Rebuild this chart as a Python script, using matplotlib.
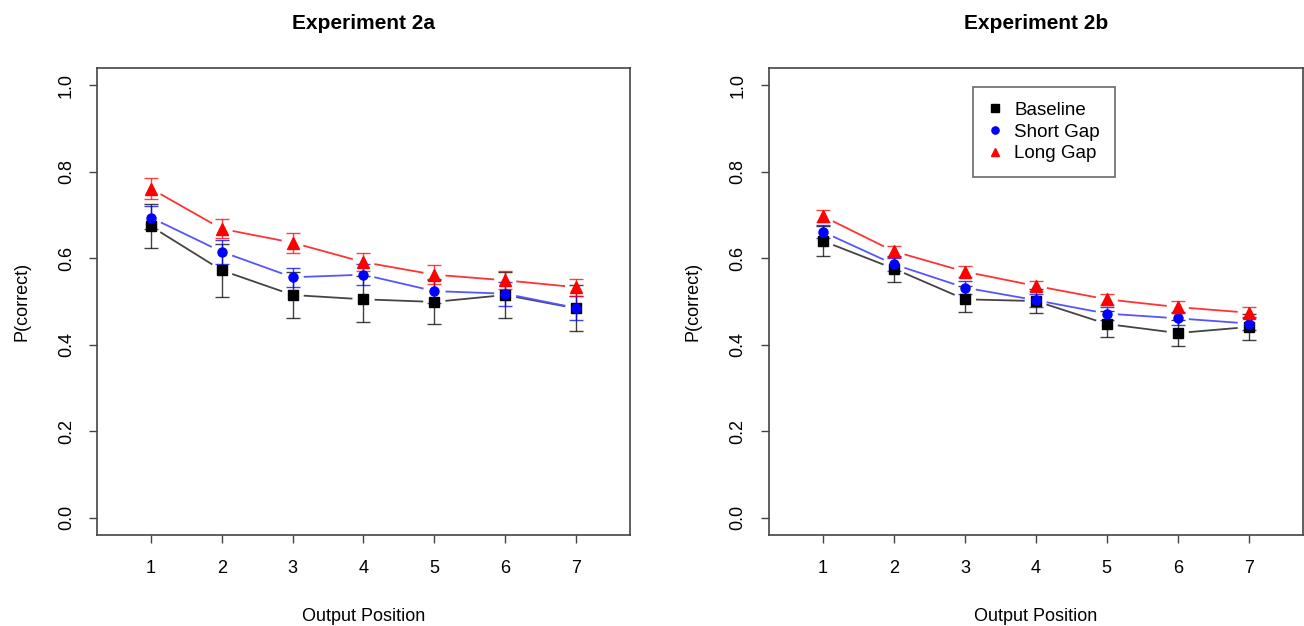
import numpy as np
import matplotlib
matplotlib.use("Agg")
import matplotlib.pyplot as plt

plt.rcParams['font.family'] = ['Liberation Sans', 'DejaVu Sans']

positions = [1, 2, 3, 4, 5, 6, 7]

# Experiment 2a
base_a = [0.674, 0.572, 0.515, 0.505, 0.499, 0.515, 0.484]
base_a_err = [0.051, 0.061, 0.054, 0.053, 0.051, 0.053, 0.053]
short_a = [0.694, 0.615, 0.556, 0.562, 0.524, 0.518, 0.485]
short_a_err = [0.027, 0.028, 0.022, 0.024, 0.027, 0.028, 0.028]
long_a = [0.761, 0.668, 0.636, 0.591, 0.562, 0.549, 0.533]
long_a_err = [0.024, 0.022, 0.023, 0.020, 0.022, 0.021, 0.020]

# Experiment 2b
base_b = [0.640, 0.576, 0.505, 0.501, 0.448, 0.427, 0.441]
base_b_err = [0.034, 0.030, 0.030, 0.027, 0.030, 0.030, 0.029]
short_b = [0.661, 0.586, 0.532, 0.503, 0.472, 0.461, 0.449]
short_b_err = [0.015, 0.015, 0.015, 0.015, 0.015, 0.015, 0.015]
long_b = [0.697, 0.616, 0.569, 0.536, 0.505, 0.487, 0.474]
long_b_err = [0.014, 0.013, 0.012, 0.012, 0.012, 0.013, 0.013]

series_names = ["Baseline", "Short Gap", "Long Gap"]
colors = ["black", "blue", "red"]
line_colors = ["#444444", "#5555ff", "#ff3333"]
markers = ["s", "o", "^"]
msizes = [6.5, 6.5, 8]

fig = plt.figure(figsize=(13.04, 6.26), dpi=100)
ax1 = fig.add_axes([0.0744, 0.1454, 0.4087, 0.746])
ax2 = fig.add_axes([0.5897, 0.1454, 0.4093, 0.746])


def gapped_line(ax, x, y, color, gap=12):
    # R type="b": segments stop short of the points
    fig.canvas.draw()
    pts = ax.transData.transform(np.column_stack([x, y]))
    inv = ax.transData.inverted()
    for p0, p1 in zip(pts[:-1], pts[1:]):
        d = p1 - p0
        L = np.hypot(*d)
        if L <= 2 * gap:
            continue
        u = d / L
        a = inv.transform(p0 + u * gap)
        b = inv.transform(p1 - u * gap)
        ax.plot([a[0], b[0]], [a[1], b[1]], color=color, lw=1.3, zorder=2)


def panel(ax, title, data, legend=False):
    ax.set_xlim(0.24, 7.76)
    ax.set_ylim(-0.04, 1.04)
    handles = []
    for (y, e), c, lc, m, ms, name in zip(data, colors, line_colors, markers, msizes, series_names):
        ax.errorbar(positions, y, yerr=e, fmt="none", ecolor=c, elinewidth=1.0,
                    capsize=5, capthick=1.0, alpha=0.75, zorder=3)
        gapped_line(ax, positions, y, lc)
        h, = ax.plot(positions, y, linestyle="none", marker=m, color=c,
                     markersize=ms, zorder=4, label=name)
        handles.append(h)
    ax.set_xticks(positions)
    ax.set_yticks([0.0, 0.2, 0.4, 0.6, 0.8, 1.0])
    ax.set_yticklabels(["0.0", "0.2", "0.4", "0.6", "0.8", "1.0"], rotation=90, va="center")
    ax.tick_params(labelsize=13, length=6, width=1, color="#444444")
    ax.tick_params(axis="x", pad=12)
    ax.tick_params(axis="y", pad=10)
    for s in ax.spines.values():
        s.set_color("#444444")
        s.set_linewidth(1.2)
    ax.set_title(title, fontsize=15, fontweight="bold", pad=28)
    ax.set_xlabel("Output Position", fontsize=13, labelpad=22)
    ax.set_ylabel("P(correct)", fontsize=13, labelpad=20)
    if legend:
        leg = ax.legend(handles=handles, loc="upper center", bbox_to_anchor=(0.515, 0.98),
                        fontsize=13.5, frameon=True, fancybox=False, edgecolor="#444444",
                        handlelength=0.8, handletextpad=0.6, borderpad=0.8, labelspacing=0.25,
                        markerscale=0.8)
        leg.get_frame().set_linewidth(1.2)


panel(ax1, "Experiment 2a",
      [(base_a, base_a_err), (short_a, short_a_err), (long_a, long_a_err)])
panel(ax2, "Experiment 2b",
      [(base_b, base_b_err), (short_b, short_b_err), (long_b, long_b_err)], legend=True)

fig.savefig("out.png", dpi=100)
